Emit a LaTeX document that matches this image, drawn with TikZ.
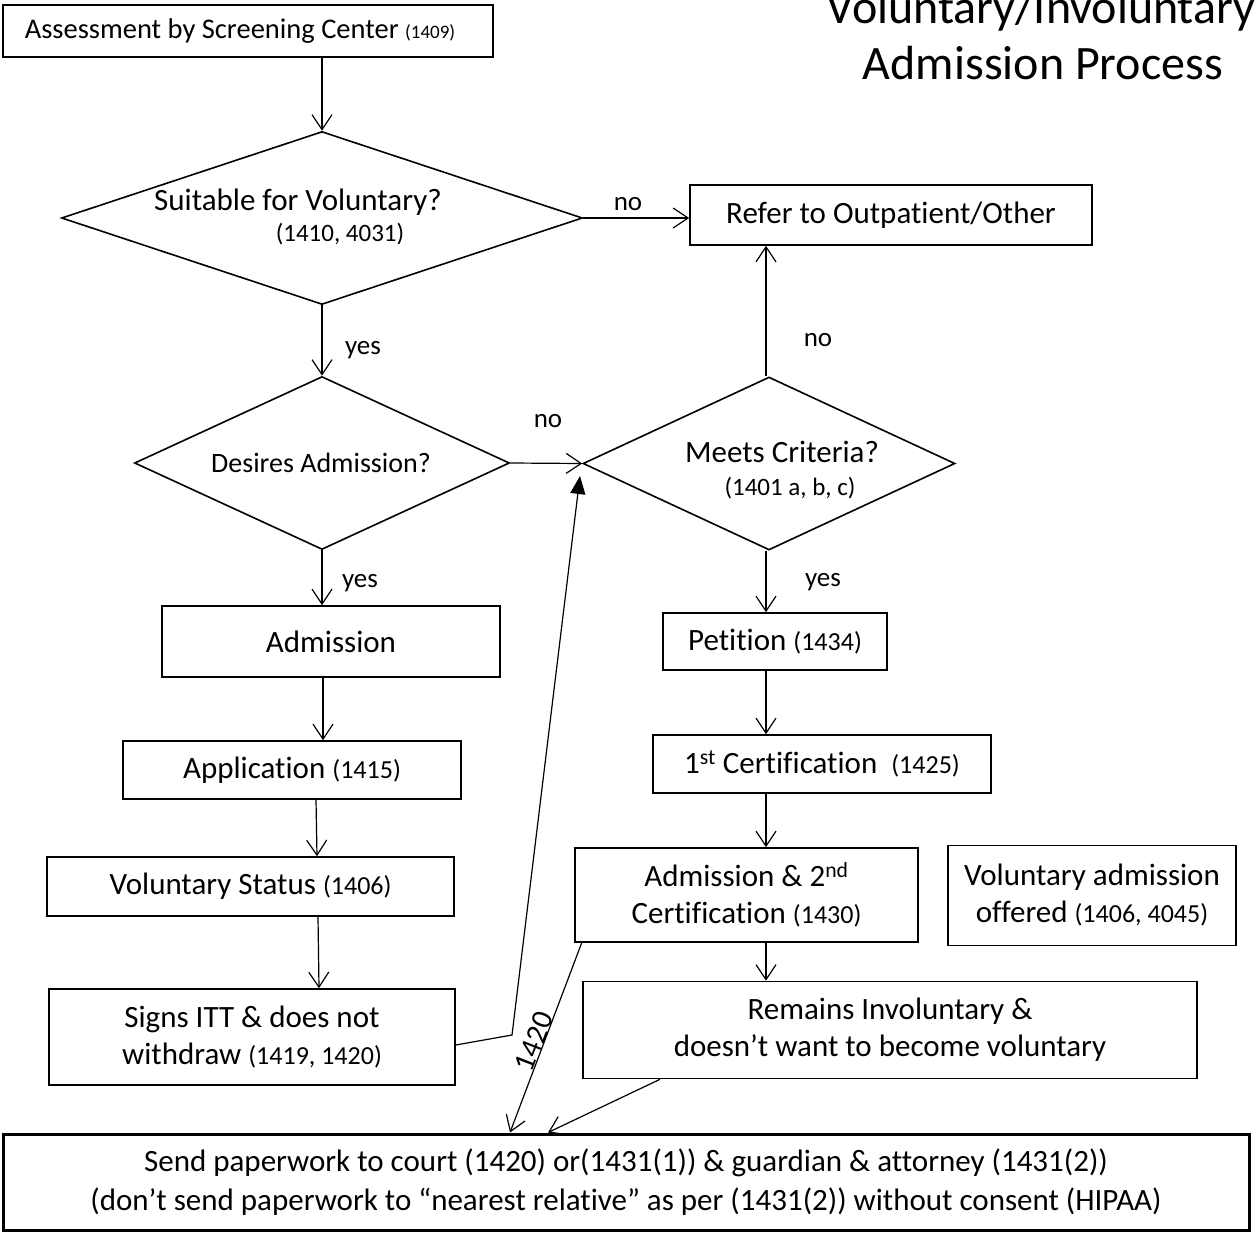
\documentclass[tikz,border=0pt]{standalone}
\usepackage{fontspec}
\setmainfont{Carlito}[Ligatures={NoCommon}]
\usetikzlibrary{arrows.meta,shapes.geometric}
\newcommand\smn[1]{{\fontsize{26}{38}\selectfont #1}}
\begin{document}
\begin{tikzpicture}[x=1pt,y=-1pt,
  box/.style={draw,line width=1.6pt,inner sep=0pt,align=center,font=\fontsize{31}{37}\selectfont},
  dia/.style={draw,line width=1.6pt,diamond,inner sep=0pt,minimum width=#1,minimum height=173pt},
  txt/.style={inner sep=0pt,font=\fontsize{31}{38}\selectfont},
  lbl/.style={inner sep=0pt,font=\fontsize{27}{32}\selectfont},
  conn/.style={line width=1.2pt,-{Straight Barb[length=15pt,width=20pt,line width=1.2pt]}},
  fconn/.style={line width=1.2pt,-{Triangle[length=18pt,width=15pt]}}]
\useasboundingbox (0,0) rectangle (1257,1233);
% title
\node[inner sep=0pt,anchor=base,font=\fontsize{48}{55}\selectfont] (t1) at (1041,24) {Voluntary/Involuntary};
\node[inner sep=0pt,anchor=base,font=\fontsize{48}{55}\selectfont] (t2) at (1043,80) {Admission Process};
% boxes
\node[box,minimum width=490pt,minimum height=52pt,font=\fontsize{28.5}{34}\selectfont] (assess) at (248,31) {Assessment by Screening Center {\fontsize{19}{34}\selectfont(1409)}\hspace*{16pt}};
\node[box,minimum width=402pt,minimum height=60pt] (refer) at (891,215) {Refer to Outpatient/Other};
\node[box,minimum width=338pt,minimum height=71pt] (adm) at (331,641.5) {Admission};
\node[box,minimum width=338pt,minimum height=58pt] (appl) at (292,770) {Application \smn{(1415)}};
\node[box,minimum width=407pt,minimum height=59pt] (vols) at (250.5,886.5) {Voluntary Status \smn{(1406)}};
\node[box,minimum width=406pt,minimum height=96pt] (signs) at (252,1037) {Signs ITT \& does not\\withdraw \smn{(1419, 1420)}};
\node[box,minimum width=224pt,minimum height=57pt] (pet) at (775,641.5) {Petition \smn{(1434)}};
\node[box,minimum width=338pt,minimum height=58pt] (cert1) at (822,764) {1\textsuperscript{st} Certification\ \ \smn{(1425)}};
\node[box,minimum width=343pt,minimum height=94pt] (cert2) at (746.5,895) {Admission \& 2\textsuperscript{nd}\\Certification \smn{(1430)}};
\node[box,minimum width=614pt,minimum height=97pt] (rem) at (890,1030) {Remains Involuntary \&\\doesn’t want to become voluntary};
\node[box,minimum width=288pt,minimum height=100pt] (offer) at (1092,895.5) {Voluntary admission\\offered \smn{(1406, 4045)}};
\node[box,line width=3pt,minimum width=1246pt,minimum height=96pt,font=\fontsize{31}{39}\selectfont] (bot) at (626,1182) {Send paperwork to court (1420) or(1431(1)) \& guardian \& attorney (1431(2))\\(don’t send paperwork to “nearest relative” as per (1431(2)) without consent (HIPAA)};
% diamonds
\node[dia=521pt] (d1) at (322,218) {};
\node[txt] (d1a) at (298,202) {Suitable for Voluntary?};
\node[inner sep=0pt,font=\fontsize{25}{28}\selectfont] (d1b) at (340,234) {(1410, 4031)};
\node[dia=375pt] (d2) at (322,463) {};
\node[txt,font=\fontsize{28}{34}\selectfont] (d2a) at (321,463) {Desires Admission?};
\node[dia=372pt] (d3) at (769,463.5) {};
\node[txt] (d3a) at (782,452) {Meets Criteria?};
\node[inner sep=0pt,font=\fontsize{25}{28}\selectfont] (d3b) at (790,488) {(1401 a, b, c)};
% labels
\node[lbl] (no1) at (628,204) {no};
\node[lbl] (yes1) at (363,350) {yes};
\node[lbl] (yes2) at (360,583) {yes};
\node[lbl] (no2) at (548,421) {no};
\node[lbl] (no3) at (818,340) {no};
\node[lbl] (yes3) at (823,582) {yes};
% connectors
\draw[conn] (d1.north |- assess.south) -- (d1.north);
\draw[conn] (d1.east) -- (d1.east -| refer.west);
\draw[conn] (d1.south) -- (d2.north);
\draw[conn] (d2.south) -- (d2.south |- adm.north);
\draw[conn] (adm.south -| 323,0) -- (appl.north -| 323,0);
\draw[conn] (appl.south -| 316,0) -- (vols.north -| 317,0);
\draw[conn] (vols.south -| 318,0) -- (signs.north -| 319,0);
\draw[conn] (d2.east) -- (d3.west);
\draw[conn] (d3.north -| 766,0) -- (refer.south -| 766,0);
\draw[conn] (d3.south -| 766,0) -- (pet.north -| 766,0);
\draw[conn] (pet.south -| 766,0) -- (cert1.north -| 766,0);
\draw[conn] (cert1.south -| 766,0) -- (cert2.north -| 766,0);
\draw[conn] (cert2.south -| 766,0) -- (rem.north -| 766,0);
\coordinate (s1) at (signs.east |- 0,1045);
\coordinate (s2) at (512,1035);
\coordinate (s3) at (580,476);
\draw[fconn] (s1) -- (s2) -- (s3);
\coordinate (c2bl) at (582,942);
\coordinate (b1) at (bot.north -| 510,0);
\draw[conn] (c2bl) -- (b1);
\node[inner sep=0pt,anchor=base,rotate=68.7,font=\fontsize{30}{34}\selectfont] (l1420) at (543,1045) {1420};
\coordinate (r1) at (rem.south -| 660,0);
\coordinate (b2) at (bot.north -| 548,0);
\draw[conn] (r1) -- (b2);
\end{tikzpicture}
\end{document}
